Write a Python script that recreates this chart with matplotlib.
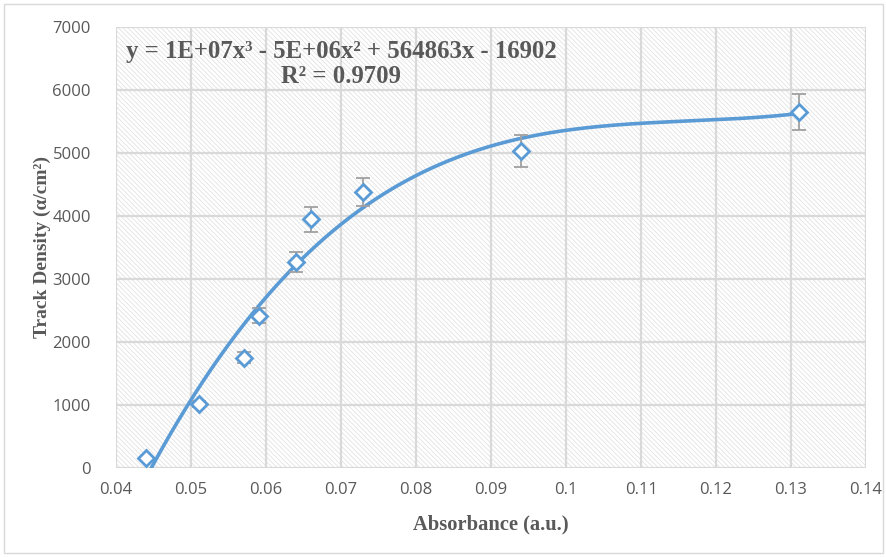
import numpy as np
import matplotlib
matplotlib.use("Agg")
import matplotlib.pyplot as plt
from matplotlib.patches import Rectangle

# Measured absorbance vs. alpha track density
absorbance = [0.044, 0.051, 0.057, 0.059, 0.064, 0.066, 0.073, 0.094, 0.131]
track_density = [160, 1020, 1750, 2420, 3270, 3950, 4380, 5030, 5650]
density_err = [8, 51, 88, 121, 164, 198, 219, 252, 283]

x_ticks = [0.04, 0.05, 0.06, 0.07, 0.08, 0.09, 0.1, 0.11, 0.12, 0.13, 0.14]
x_tick_labels = ["0.04", "0.05", "0.06", "0.07", "0.08", "0.09", "0.1", "0.11", "0.12", "0.13", "0.14"]
y_ticks = [0, 1000, 2000, 3000, 4000, 5000, 6000, 7000]

BLUE = "#5B9BD5"
GRAY_TEXT = "#595959"
GRID = "#D9D9D9"

plt.rcParams["hatch.linewidth"] = 0.55
plt.rcParams["hatch.color"] = "#E0E0E0"

fig = plt.figure(figsize=(8.87, 5.57), dpi=100)
ax = fig.add_axes([116 / 887, 89 / 557, 750 / 887, 441 / 557])

# hatched plot-area fill
ax.add_patch(Rectangle((0, 0), 1, 1, transform=ax.transAxes, facecolor="white",
                       edgecolor="#E0E0E0", hatch="\\" * 7, linewidth=0, zorder=0.2))

# third-order polynomial trendline
coef = np.polyfit(absorbance, track_density, 3)
xs = np.linspace(min(absorbance), max(absorbance), 400)
ax.plot(xs, np.polyval(coef, xs), color=BLUE, lw=2.6, zorder=3, clip_on=True)

ax.errorbar(absorbance, track_density, yerr=density_err, fmt="none",
            ecolor="#A0A0A0", elinewidth=1.3, capsize=5, capthick=1.3, zorder=4)
ax.plot(absorbance, track_density, linestyle="none", marker="D", markersize=8,
        markerfacecolor="white", markeredgecolor=BLUE, markeredgewidth=2, zorder=5,
        clip_on=False)

ax.set_xlim(0.04, 0.14)
ax.set_ylim(0, 7000)
ax.set_xticks(x_ticks)
ax.set_xticklabels(x_tick_labels)
ax.set_yticks(y_ticks)
ax.grid(True, color=GRID, lw=1.6, zorder=0.5)
ax.set_axisbelow(True)
for s in ax.spines.values():
    s.set_visible(False)
ax.tick_params(length=0, labelsize=12, labelcolor=GRAY_TEXT, pad=10)
ax.tick_params(axis="y", pad=18)
for lab in ax.get_xticklabels() + ax.get_yticklabels():
    lab.set_fontfamily("Open Sans")

serif = "Liberation Serif"
ax.set_xlabel("Absorbance (a.u.)", fontfamily=serif, fontweight="bold",
              fontsize=14.8, color=GRAY_TEXT, labelpad=12)
ax.set_ylabel("Track Density (α/cm²)", fontfamily=serif, fontweight="bold",
              fontsize=14, color=GRAY_TEXT)
ax.yaxis.set_label_coords(-0.087, 0.5)

ax.text(0.07, 6410, "y = 1E+07x³ - 5E+06x² + 564863x - 16902\nR² = 0.9709",
        ha="center", va="center", multialignment="center", fontfamily=serif,
        fontweight="bold", fontsize=17.8, color=GRAY_TEXT, zorder=6,
        linespacing=1.1)

fig.patches.append(Rectangle((4 / 887, 4 / 557), 879 / 887, 549 / 557,
                             transform=fig.transFigure, fill=False,
                             edgecolor="#D9D9D9", lw=1))

fig.savefig("out.png", dpi=100)
